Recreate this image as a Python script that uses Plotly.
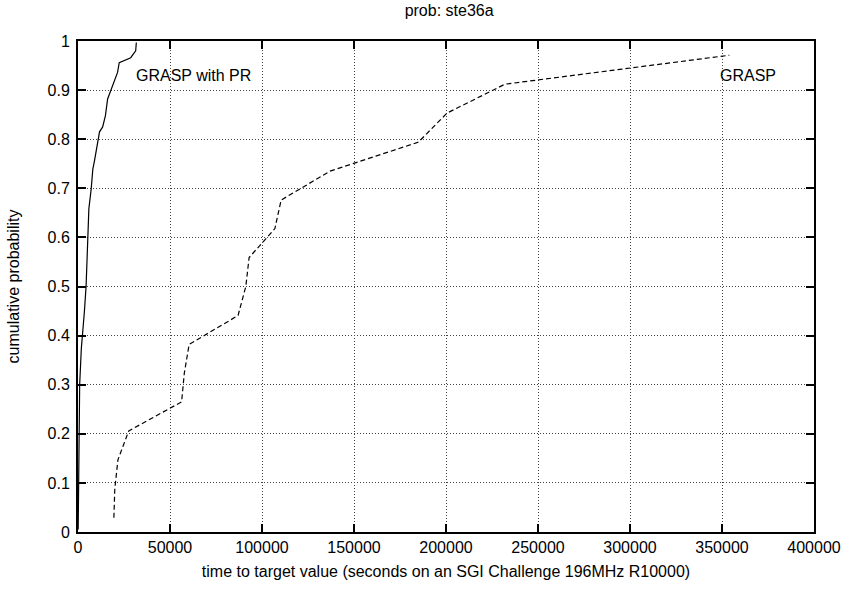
import plotly.graph_objects as go

# Empirical time-to-target distributions (seconds, cumulative probability)
grasp_pr_time = [100, 300, 500, 900, 1800, 2700, 3500, 4400, 5400, 5900, 7150, 8060,
                 9000, 10750, 11700, 13400, 14900, 16100, 18800, 21500, 22400, 28650,
                 31350, 31700]
grasp_pr_prob = [0.005, 0.1, 0.2, 0.3, 0.373, 0.407, 0.45, 0.501, 0.591, 0.658, 0.698,
                 0.739, 0.757, 0.794, 0.815, 0.825, 0.848, 0.882, 0.909, 0.936, 0.956,
                 0.966, 0.98, 0.997]

grasp_time = [19500, 20000, 21700, 27600, 56300, 57800, 60400, 87000, 91200, 93000,
              107000, 110400, 137000, 185000, 200500, 232000, 354000]
grasp_prob = [0.029, 0.088, 0.147, 0.206, 0.265, 0.324, 0.382, 0.441, 0.5, 0.559,
              0.618, 0.676, 0.735, 0.794, 0.853, 0.912, 0.971]

x_ticks = [0, 50000, 100000, 150000, 200000, 250000, 300000, 350000, 400000]
y_ticks = [0, 0.1, 0.2, 0.3, 0.4, 0.5, 0.6, 0.7, 0.8, 0.9, 1]
y_tick_text = ["0", "0.1", "0.2", "0.3", "0.4", "0.5", "0.6", "0.7", "0.8", "0.9", "1"]

FONT = "Liberation Sans, Arial, sans-serif"
FS = 16

fig = go.Figure()
fig.add_trace(go.Scatter(x=grasp_pr_time, y=grasp_pr_prob, mode="lines",
                         line=dict(color="black", width=1.2), name="GRASP with PR"))
fig.add_trace(go.Scatter(x=grasp_time, y=grasp_prob, mode="lines",
                         line=dict(color="black", width=1.2, dash="5px,3px"), name="GRASP"))

fig.add_annotation(x=30650, y=0.929, text="GRASP with PR", showarrow=False,
                   xanchor="left", yanchor="middle", font=dict(size=FS, color="black"))
fig.add_annotation(x=347800, y=0.929, text="GRASP", showarrow=False,
                   xanchor="left", yanchor="middle", font=dict(size=FS, color="black"))

axis_common = dict(showline=True, linecolor="black", linewidth=2, mirror="ticks",
                   ticks="inside", ticklen=8, tickcolor="black", tickwidth=1.5,
                   showgrid=True, gridcolor="#444", griddash="1px,2px", gridwidth=1,
                   zeroline=False, tickfont=dict(size=FS, color="black"))

fig.update_layout(
    width=853, height=590,
    margin=dict(l=77, r=32, t=41, b=55),
    paper_bgcolor="white", plot_bgcolor="white",
    font=dict(family=FONT, size=FS, color="black"),
    showlegend=False,
    title=dict(text="prob: ste36a", x=0.5265, xanchor="center", y=0.983, yanchor="middle",
               font=dict(size=FS, color="black")),
    xaxis=dict(range=[0, 400000], tickvals=x_ticks, ticktext=[str(v) for v in x_ticks],
               title=dict(text="time to target value (seconds on an SGI Challenge 196MHz R10000)",
                          standoff=11, font=dict(size=FS)),
               **axis_common),
    yaxis=dict(range=[0, 1], tickvals=y_ticks, ticktext=y_tick_text, ticklabelstandoff=3,
               title=dict(text="cumulative probability", standoff=24, font=dict(size=FS)),
               **axis_common),
)

fig.write_html("out.html")
